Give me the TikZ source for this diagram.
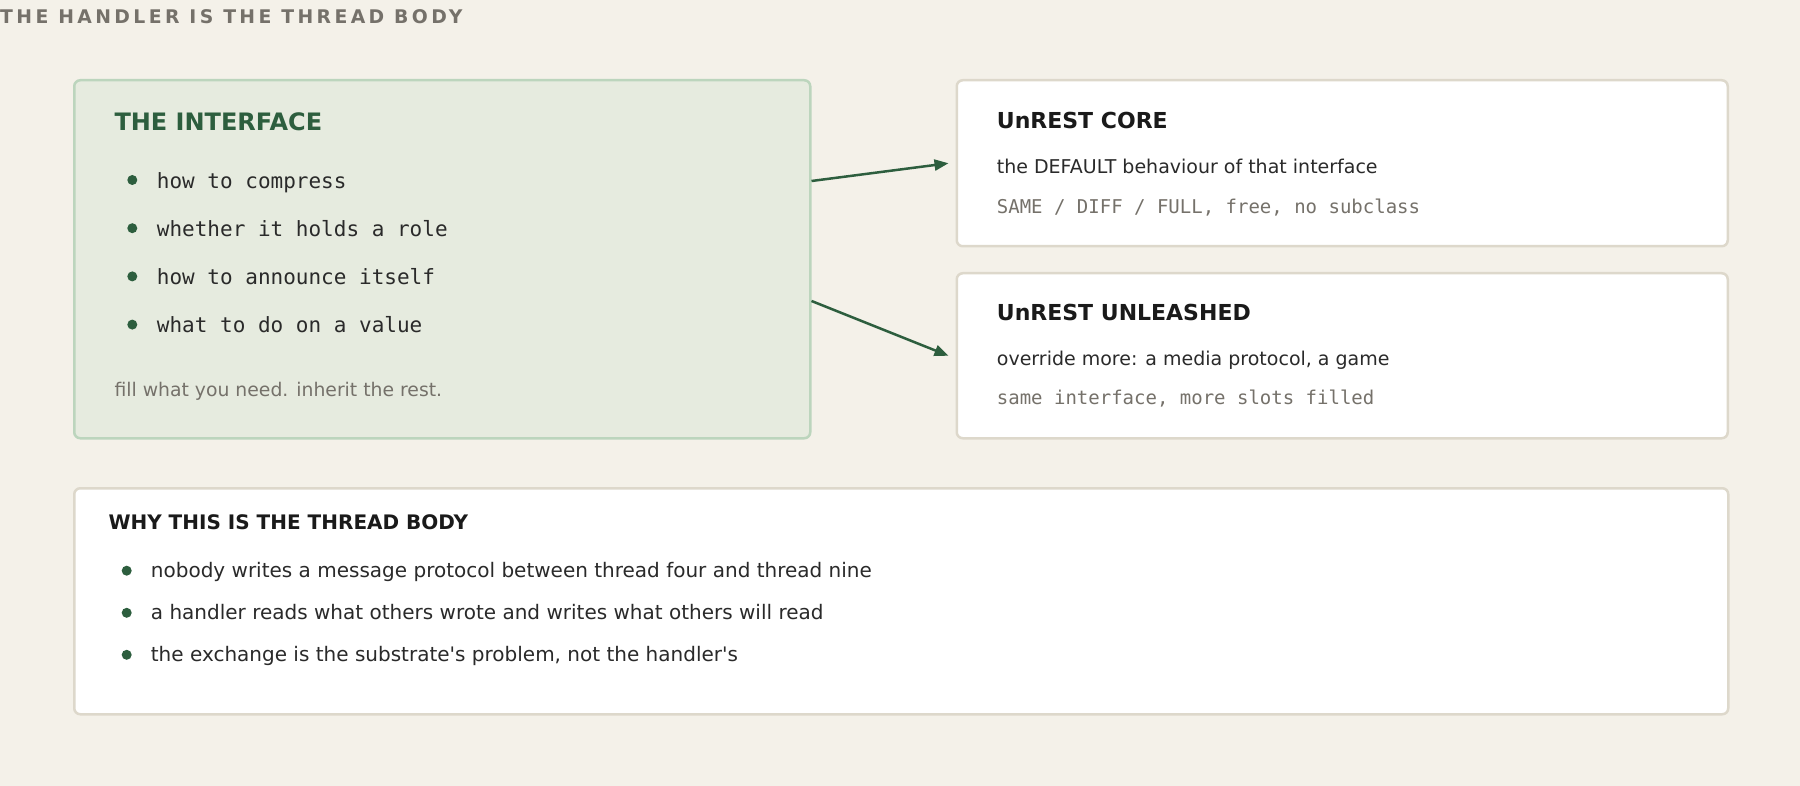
\documentclass[tikz,border=0pt]{standalone}
\usepackage{fontspec}
\setmainfont{DejaVu Sans}
\setmonofont{DejaVu Sans Mono}
\newfontfamily\titlefont[LetterSpace=18]{DejaVu Sans}
\usetikzlibrary{arrows.meta}
\definecolor{bg}{HTML}{F4F1E9}
\definecolor{ttl}{HTML}{75716A}
\definecolor{ifill}{HTML}{E6EBDF}
\definecolor{iborder}{HTML}{BCD5BD}
\definecolor{green}{HTML}{2D5E3E}
\definecolor{wborder}{HTML}{DDD8CB}
\definecolor{dark}{HTML}{1A1A1A}
\definecolor{body}{HTML}{2A2A2A}
\definecolor{muted}{HTML}{75716A}
\tikzset{
  ifbox/.style={draw=iborder, fill=ifill, line width=2.5pt, rounded corners=6pt, anchor=north west, inner sep=0},
  wbox/.style={draw=wborder, fill=white, line width=2.5pt, rounded corners=6pt, anchor=north west, inner sep=0},
  txt/.style={anchor=base west, inner sep=0},
  ihead/.style={txt, text=green, font=\bfseries\fontsize{24}{28}\selectfont},
  dhead/.style={txt, text=dark, font=\bfseries\fontsize{22}{26}\selectfont},
  bhead/.style={txt, text=dark, font=\bfseries\fontsize{20}{24}\selectfont},
  imono/.style={txt, text=body, font=\ttfamily\fontsize{21}{25}\selectfont},
  gmono/.style={txt, text=muted, font=\ttfamily\fontsize{19}{23}\selectfont},
  btxt/.style={txt, text=body, font=\fontsize{19}{23}\selectfont},
  wtxt/.style={txt, text=body, font=\fontsize{20}{24}\selectfont},
  gtxt/.style={txt, text=muted, font=\fontsize{18.8}{23}\selectfont},
  dot/.style={circle, fill=green, inner sep=0, minimum size=10pt},
  arr/.style={draw=green, line width=2.5pt, -{Triangle[length=14pt,width=11pt]}},
}
\begin{document}
\begin{tikzpicture}[x=1pt,y=-1pt]
\fill[bg] (0,0) rectangle (1800,786);
\useasboundingbox (0,0) rectangle (1800,786);

\node[txt, text=ttl, font=\titlefont\bfseries\fontsize{18.8}{22}\selectfont] (title) at (0,24) {THE HANDLER IS THE THREAD BODY};

% boxes
\node[ifbox, minimum width=736pt, minimum height=358pt] (iface) at (73,79) {};
\node[wbox, minimum width=771pt, minimum height=166pt] (core) at (955.5,79) {};
\node[wbox, minimum width=771pt, minimum height=165pt] (unl) at (955.5,272) {};
\node[wbox, minimum width=1654pt, minimum height=226pt] (why) at (73,487) {};

% interface
\node[ihead] (ih) at (114.3,130.7) {THE INTERFACE};
\node[dot] (d1) at (132.3,180) {};
\node[imono] (i1) at (156.7,188.3) {how to compress};
\node[dot] (d2) at (132.3,228.2) {};
\node[imono] (i2) at (156.7,236.5) {whether it holds a role};
\node[dot] (d3) at (132.3,276.4) {};
\node[imono] (i3) at (156.7,284.7) {how to announce itself};
\node[dot] (d4) at (132.3,324.6) {};
\node[imono] (i4) at (156.7,332.9) {what to do on a value};
\node[gtxt] (ifoot) at (114.3,396) {fill what you need. inherit the rest.};

% core
\node[dhead] (ch) at (996.7,129) {UnREST CORE};
\node[btxt] (cb) at (996.7,173.3) {the DEFAULT behaviour of that interface};
\node[gmono] (cm) at (996.7,213.3) {SAME / DIFF / FULL, free, no subclass};

% unleashed
\node[dhead] (uh) at (996.7,321) {UnREST UNLEASHED};
\node[btxt] (ub) at (996.7,365.7) {override more: a media protocol, a game};
\node[gmono] (um) at (996.7,404.3) {same interface, more slots filled};

% why
\node[bhead] (wh) at (108.3,529.3) {WHY THIS IS THE THREAD BODY};
\node[dot] (w1d) at (126.7,570.7) {};
\node[wtxt] (w1) at (150.7,577.3) {nobody writes a message protocol between thread four and thread nine};
\node[dot] (w2d) at (126.7,612.8) {};
\node[wtxt] (w2) at (150.7,619.2) {a handler reads what others wrote and writes what others will read};
\node[dot] (w3d) at (126.7,654.8) {};
\node[wtxt] (w3) at (150.7,661.1) {the exchange is the substrate\textquotesingle s problem, not the handler\textquotesingle s};

% arrows
\path (iface.north east) ++(0,102) coordinate (a1s);
\path (core.west) ++(-7,0) coordinate (a1e);
\path (iface.north east) ++(0,222) coordinate (a2s);
\path (unl.west) ++(-7,0) coordinate (a2e);
\draw[arr] (a1s) -- (a1e);
\draw[arr] (a2s) -- (a2e);
\end{tikzpicture}
\end{document}
